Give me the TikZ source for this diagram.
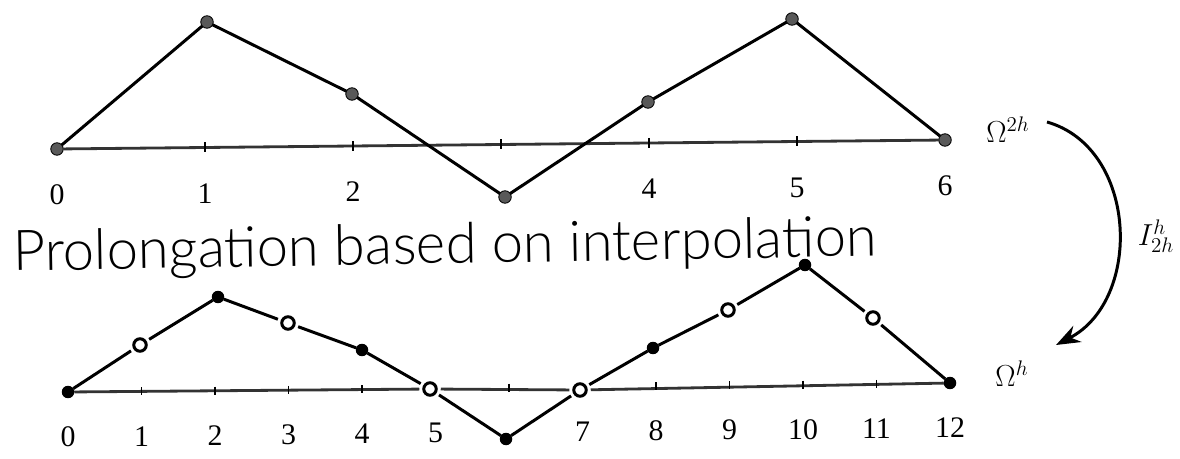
\documentclass[tikz,border=0pt]{standalone}
\usepackage{fontspec}
\usepackage{graphicx}
\setmainfont{Liberation Serif}
\newfontfamily\handfont{Lato Light}
\usetikzlibrary{calc,arrows.meta}
\begin{document}
\begin{tikzpicture}[x=0.02cm,y=-0.02cm,
  curve/.style={line width=1.7pt, line join=round},
  axisline/.style={line width=1.6pt, black!80},
  tickmark/.style={line width=0.8pt},
  fdot/.style={circle, fill=black!65, draw=black, line width=0.5pt, inner sep=0pt, minimum size=0.25cm, outer sep=0pt},
  bdot/.style={circle, fill=black, inner sep=0pt, minimum size=0.25cm, outer sep=0pt},
  odot/.style={circle, draw=black, fill=white, line width=1.7pt, inner sep=0pt, minimum size=0.25cm, outer sep=0.09cm},
  num/.style={font=\fontsize{17}{20}\selectfont, inner sep=0pt},
]
\useasboundingbox (0,0) rectangle (1180,459);

% ---------- top: coarse grid Omega^{2h} ----------
\node[fdot] (t0) at (57,149) {};
\node[fdot] (t1) at (207,22) {};
\node[fdot] (t2) at (352,94) {};
\node[fdot] (t3) at (505,197) {};
\node[fdot] (t4) at (648,102) {};
\node[fdot] (t5) at (792,19) {};
\node[fdot] (t6) at (945,140) {};

\draw[axisline] (t0) -- (t6);
\foreach \k in {1,...,5}
  \draw[tickmark] ($(t0)!{\k/6}!(t6)+(0,-5)$) -- ++(0,10);
\draw[curve] (t0) -- (t1) -- (t2) -- (t3) -- (t4) -- (t5) -- (t6);

\foreach \k in {0,1,2,4,5,6}
  \node[num] (tl\k) at ($(t0)!{\k/6}!(t6)+(0,46)$) {\k};

\node[num] (om2h) at (1008,130) {$\Omega^{2h}$};

% ---------- handwritten caption ----------
\node[anchor=base west, inner sep=0pt, rotate=1] (title) at (13,271)
  {\resizebox{17.28cm}{!}{\handfont Prolongation based on interpolation}};

% ---------- bottom: fine grid Omega^h ----------
\node[bdot] (b0) at (68,392) {};
\node[odot] (b1) at (140,345) {};
\node[bdot] (b2) at (218,297) {};
\node[odot] (b3) at (288,323) {};
\node[bdot] (b4) at (362,350) {};
\node[odot] (b5) at (430,389) {};
\node[bdot] (b6) at (506,439) {};
\node[odot] (b7) at (580,390) {};
\node[bdot] (b8) at (653,348) {};
\node[odot] (b9) at (728,310) {};
\node[bdot] (b10) at (805,265) {};
\node[odot] (b11) at (873,318) {};
\node[bdot] (b12) at (950,383) {};

\draw[axisline] (b0) -- (b5);
\draw[axisline] (b5) -- (b7);
\draw[axisline] (b7) -- (b12);
\foreach \k in {1,2,3,4,6,8,9,10,11}
  \draw[tickmark] ($(b0)!{\k/12}!(b12)+(0,-4)$) -- ++(0,8);
\draw[curve] (b0) -- (b1) -- (b2) -- (b3) -- (b4) -- (b5) -- (b6)
  -- (b7) -- (b8) -- (b9) -- (b10) -- (b11) -- (b12);

\foreach \k in {0,1,2,3,4,5,7,8,9,10,11,12}
  \node[num] (bl\k) at ($(b0)!{\k/12}!(b12)+(0,45)$) {\k};

\node[num] (omh) at (1012,374) {$\Omega^{h}$};

% ---------- interpolation arrow ----------
\coordinate (as) at (1047,122);
\coordinate (ae) at (1056,345);
\draw[line width=1.7pt, -{Stealth[length=0.48cm,width=0.36cm]}]
  (as) .. controls (1138,148) and (1143,300) .. (ae);
\node[num] (interp) at (1156,236) {$I_{2h}^{h}$};
\end{tikzpicture}
\end{document}
